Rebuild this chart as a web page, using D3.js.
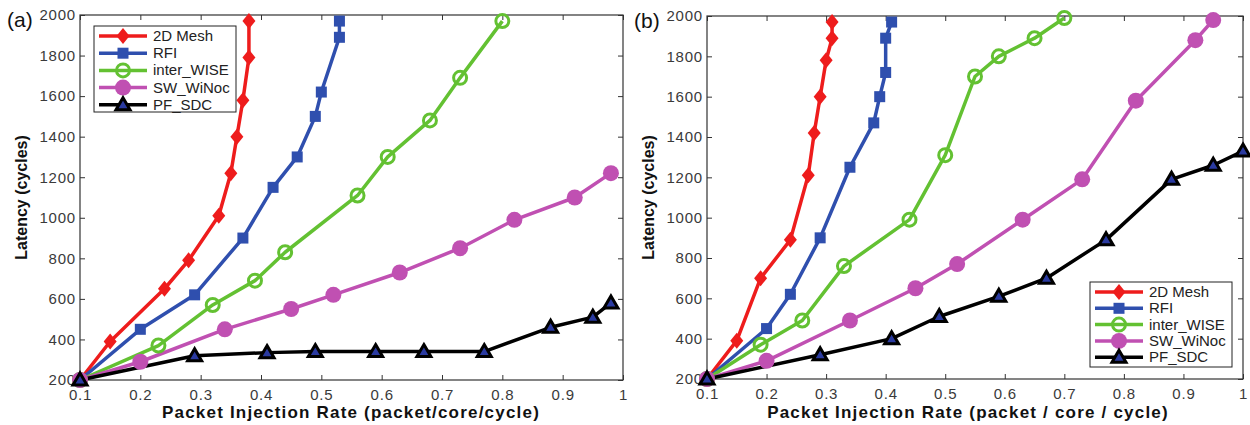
<!DOCTYPE html>
<html><head><meta charset="utf-8">
<script src="https://cdn.jsdelivr.net/npm/d3@7"></script>
<style>body{margin:0;background:#fff}svg{display:block}</style>
</head><body>
<script>
const seriesNames = ["2D Mesh","RFI","inter_WISE","SW_WiNoc","PF_SDC"];
const xTicks = [0.1,0.2,0.3,0.4,0.5,0.6,0.7,0.8,0.9,1];
const yTicks = [200,400,600,800,1000,1200,1400,1600,1800,2000];

// Panel (a)
const aMeshX = [0.1,0.15,0.24,0.28,0.33,0.35,0.36,0.37,0.38,0.38];
const aMeshY = [200,390,650,790,1010,1220,1400,1580,1790,1970];
const aRfiX = [0.1,0.2,0.29,0.37,0.42,0.46,0.49,0.5,0.53,0.53];
const aRfiY = [200,450,620,900,1150,1300,1500,1620,1890,1970];
const aWiseX = [0.1,0.23,0.32,0.39,0.44,0.56,0.61,0.68,0.73,0.8];
const aWiseY = [200,370,570,690,830,1110,1300,1480,1690,1970];
const aSwX = [0.1,0.2,0.34,0.45,0.52,0.63,0.73,0.82,0.92,0.98];
const aSwY = [200,290,450,550,620,730,850,990,1100,1220];
const aPfX = [0.1,0.29,0.41,0.49,0.59,0.67,0.77,0.88,0.95,0.98];
const aPfY = [200,320,335,340,340,340,340,460,510,580];

// Panel (b)
const bMeshX = [0.1,0.15,0.19,0.24,0.27,0.28,0.29,0.3,0.31,0.31];
const bMeshY = [200,390,700,890,1210,1420,1600,1780,1890,1970];
const bRfiX = [0.1,0.2,0.24,0.29,0.34,0.38,0.39,0.4,0.4,0.41];
const bRfiY = [200,450,620,900,1250,1470,1600,1720,1890,1970];
const bWiseX = [0.1,0.19,0.26,0.33,0.44,0.5,0.55,0.59,0.65,0.7];
const bWiseY = [200,370,490,760,990,1310,1700,1800,1890,1990];
const bSwX = [0.1,0.2,0.34,0.45,0.52,0.63,0.73,0.82,0.92,0.95];
const bSwY = [200,290,490,650,770,990,1190,1580,1880,1980];
const bPfX = [0.1,0.29,0.41,0.49,0.59,0.67,0.77,0.88,0.95,1.0];
const bPfY = [200,320,400,510,610,700,890,1190,1260,1330];

const colors = ["#ee1c1c","#2f4fae","#63c132","#c050b2","#000000"];

const W=1250,H=425;
const svg = d3.select("body").append("svg").attr("width",W).attr("height",H);
const FONT = "'Liberation Sans', Arial, sans-serif";

function marker(g, type, x, y, color){
  if(type===0){
    g.append("path").attr("d",`M${x},${y-8}L${x+6.5},${y}L${x},${y+8}L${x-6.5},${y}Z`).attr("fill",color);
  } else if(type===1){
    g.append("rect").attr("x",x-5.5).attr("y",y-5.5).attr("width",11).attr("height",11).attr("fill",color);
  } else if(type===2){
    g.append("circle").attr("cx",x).attr("cy",y).attr("r",6.5).attr("fill","none").attr("stroke",color).attr("stroke-width",3);
  } else if(type===3){
    g.append("circle").attr("cx",x).attr("cy",y).attr("r",8).attr("fill",color);
  } else {
    g.append("path").attr("d",`M${x},${y-7}L${x+7},${y+5}L${x-7},${y+5}Z`).attr("fill","#2a3aa0").attr("stroke","#000").attr("stroke-width",3).attr("stroke-linejoin","miter");
  }
}

function panel(opts){
  const {x0,x1,y0,y1,data,label,xtitle,xtitleX,legend} = opts;
  const x = d3.scaleLinear().domain([0.1,1]).range([x0,x1]);
  const y = d3.scaleLinear().domain([200,2000]).range([y0,y1]);
  const g = svg.append("g");
  g.append("rect").attr("x",x0).attr("y",y1).attr("width",x1-x0).attr("height",y0-y1)
    .attr("fill","#fff").attr("stroke","#333").attr("stroke-width",1.2);
  // axes
  const ax = g.append("g").attr("transform",`translate(0,${y0})`)
    .call(d3.axisBottom(x).tickValues(xTicks).tickSize(-5).tickPadding(9).tickFormat(d=>d===1?"1":d3.format(".1f")(d)));
  const axT = g.append("g").attr("transform",`translate(0,${y1})`)
    .call(d3.axisTop(x).tickValues(xTicks).tickSize(-5).tickFormat(""));
  const ay = g.append("g").attr("transform",`translate(${x0},0)`)
    .call(d3.axisLeft(y).tickValues(yTicks).tickSize(-5).tickPadding(4).tickFormat(d3.format("d")));
  const ayR = g.append("g").attr("transform",`translate(${x1},0)`)
    .call(d3.axisRight(y).tickValues(yTicks).tickSize(-5).tickFormat(""));
  [ax,axT,ay,ayR].forEach(a=>{
    a.select(".domain").remove();
    a.selectAll(".tick line").attr("stroke","#333");
    a.selectAll("text").attr("font-family",FONT).attr("font-size",15).attr("letter-spacing","0.8px").attr("fill","#3a3a3a");
  });
  // lines
  const line = d3.line().x(d=>x(d[0])).y(d=>y(d[1]));
  data.forEach((s,i)=>{
    const pts = s[0].map((v,k)=>[v,s[1][k]]);
    g.append("path").datum(pts).attr("d",line).attr("fill","none")
      .attr("stroke",colors[i]).attr("stroke-width",3.5).attr("stroke-linejoin","round");
  });
  data.forEach((s,i)=>{
    s[0].forEach((v,k)=>marker(g,i,x(v),y(s[1][k]),colors[i]));
  });
  // titles
  g.append("text").attr("x",xtitleX).attr("y",418).attr("text-anchor","middle")
    .attr("font-family",FONT).attr("font-weight","bold").attr("font-size",17).attr("letter-spacing","1.2px").attr("fill","#111").text(xtitle);
  g.append("text").attr("transform",`translate(${x0-53},${(y0+y1)/2}) rotate(-90)`).attr("text-anchor","middle")
    .attr("font-family",FONT).attr("font-weight","bold").attr("font-size",16).attr("fill","#111").text("Latency (cycles)");
  g.append("text").attr("x",x0-73).attr("y",y1+12).attr("font-family",FONT).attr("font-size",21).attr("fill","#111").text(label);
  // legend
  const lg = g.append("g");
  lg.append("rect").attr("x",legend.x).attr("y",legend.y).attr("width",legend.w).attr("height",legend.h)
    .attr("fill","#fff").attr("stroke","#222").attr("stroke-width",1);
  seriesNames.forEach((n,i)=>{
    const ry = legend.y + 10 + i*legend.dy;
    lg.append("line").attr("x1",legend.x+5).attr("x2",legend.x+53).attr("y1",ry).attr("y2",ry)
      .attr("stroke",colors[i]).attr("stroke-width",3.5);
    marker(lg,i,legend.x+29,ry,colors[i]);
    if(i===2) lg.append("line").attr("x1",legend.x+23).attr("x2",legend.x+35).attr("y1",ry).attr("y2",ry).attr("stroke",colors[i]).attr("stroke-width",2);
    lg.append("text").attr("x",legend.x+59).attr("y",ry+5).attr("font-family",FONT).attr("font-size",15).attr("fill","#222").text(n);
  });
}

panel({x0:80,x1:623,y0:380,y1:15,label:"(a)",xtitle:"Packet Injection Rate (packet/core/cycle)",xtitleX:351,
  data:[[aMeshX,aMeshY],[aRfiX,aRfiY],[aWiseX,aWiseY],[aSwX,aSwY],[aPfX,aPfY]],
  legend:{x:94,y:26,w:142,h:86,dy:17.2}});
panel({x0:707,x1:1243,y0:379,y1:16,label:"(b)",xtitle:"Packet Injection Rate (packet / core / cycle)",xtitleX:968,
  data:[[bMeshX,bMeshY],[bRfiX,bRfiY],[bWiseX,bWiseY],[bSwX,bSwY],[bPfX,bPfY]],
  legend:{x:1090,y:282,w:142,h:85,dy:16.3}});
</script>
</body></html>
